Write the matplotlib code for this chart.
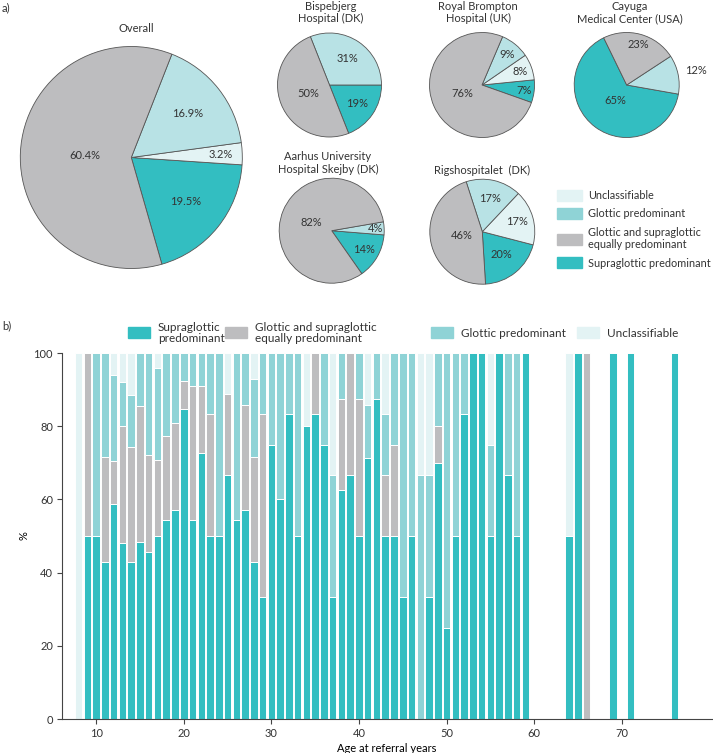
import matplotlib.pyplot as plt
import numpy as np
from matplotlib.patches import Patch, Rectangle

plt.rcParams['font.family'] = ['Lato', 'DejaVu Sans']
plt.rcParams['font.size'] = 8.5
plt.rcParams['text.color'] = '#333333'
plt.rcParams['axes.edgecolor'] = '#444444'
plt.rcParams['xtick.color'] = '#444444'
plt.rcParams['ytick.color'] = '#444444'
plt.rcParams['xtick.labelcolor'] = '#333333'
plt.rcParams['ytick.labelcolor'] = '#333333'

# ---- pie data, order: supraglottic, unclassifiable, glottic, both ----
pie_names = ["Overall", "Bispebjerg\nHospital (DK)", "Royal Brompton\nHospital (UK)",
             "Cayuga\nMedical Center (USA)", "Aarhus University\nHospital Skejby (DK)",
             "Rigshospitalet  (DK)"]
overall = [19.5, 3.2, 16.9, 60.4]
bispebjerg = [19, 0, 31, 50]
royal_brompton = [7, 8, 9, 76]
cayuga = [65, 0, 12, 23]
aarhus = [14, 0, 4, 82]
rigshospitalet = [20, 17, 17, 46]

# ---- bar data: % per age at referral ----
ages = list(range(8, 60)) + [64, 65, 66, 69, 71, 76]
supra = [0, 50, 50, 42.9, 58.8, 48, 42.9, 48.4, 45.5, 50,
         54.5, 57.1, 84.6, 54.5, 72.7, 50, 50, 66.7, 54.5, 57.1,
         42.9, 33.3, 75, 60, 83.3, 50, 80, 83.3, 75, 33.3,
         62.5, 66.7, 50, 71.4, 87.5, 50, 50, 33.3, 50, 0,
         33.3, 70, 25, 50, 83.3, 100, 100, 50, 100, 66.7,
         50, 100, 50, 100, 0, 100, 100, 100]
both = [0, 50, 0, 28.6, 11.8, 32, 31.4, 37.2, 26.5, 20.8,
        22.7, 23.8, 7.7, 36.4, 18.2, 33.3, 0, 22.2, 0, 28.6,
        28.6, 50, 0, 0, 0, 0, 0, 16.7, 0, 0,
        25, 33.3, 37.5, 0, 0, 16.7, 25, 0, 0, 0,
        0, 10, 0, 0, 0, 0, 0, 0, 0, 0,
        0, 0, 0, 0, 100, 0, 0, 0]
glottic = [0, 0, 50, 28.5, 23.5, 12, 14.3, 14.4, 28, 25,
           22.8, 19.1, 7.7, 9.1, 9.1, 16.7, 50, 0, 45.5, 14.3,
           21.4, 16.7, 25, 40, 16.7, 50, 0, 0, 25, 33.3,
           12.5, 0, 12.5, 14.3, 12.5, 16.7, 25, 66.7, 50, 66.7,
           33.3, 20, 75, 50, 16.7, 0, 0, 25, 0, 33.3,
           50, 0, 0, 0, 0, 0, 0, 0]
unclass = [100, 0, 0, 0, 5.9, 8, 11.4, 0, 0, 4.2,
           0, 0, 0, 0, 0, 0, 0, 11.1, 0, 0,
           7.1, 0, 0, 0, 0, 0, 20, 0, 0, 33.4,
           0, 0, 0, 14.3, 0, 16.6, 0, 0, 0, 33.3,
           33.4, 0, 0, 0, 0, 0, 0, 25, 0, 0,
           0, 0, 50, 0, 0, 0, 0, 0]

c_supra = '#33bec1'
c_both = '#bdbdbf'
c_glot = '#8fd3d6'
c_glot_pie = '#b8e2e5'
c_uncl = '#e3f3f4'

W, H = 713, 753
fig = plt.figure(figsize=(W / 100, H / 100), dpi=100)


def px_axes(cx, cy, r):
    return fig.add_axes([(cx - r) / W, 1 - (cy + r) / H, 2 * r / W, 2 * r / H])


pies = [
    (overall, (131.3, 157.5, 111), -74, [0.63, 0.81, 0.64, 0.42], "{:.1f}%"),
    (bispebjerg, (329.5, 85, 52), -68.4, [0.64, 0.62, 0.43], "{:.0f}%"),
    (royal_brompton, (482, 85, 52.5), -19.5, [0.8, 0.77, 0.75, 0.4], "{:.0f}%"),
    (cayuga, (626.7, 85, 52.5), 116, [0.36, 1.35, 0.8], "{:.0f}%"),
    (aarhus, (331.7, 230.7, 52.5), -55, [0.71, 0.83, 0.43], "{:.0f}%"),
    (rigshospitalet, (482.3, 231.7, 52.5), -86.5, [0.57, 0.69, 0.65, 0.4], "{:.0f}%"),
]
pie_cols = [c_supra, c_uncl, c_glot_pie, c_both]

for vals, (cx, cy, r), start, dists, fmt in pies:
    ax = px_axes(cx, cy, r)
    v = [x for x in vals if x > 0]
    cols = [c for x, c in zip(vals, pie_cols) if x > 0]
    wedges, _ = ax.pie(v, colors=cols, startangle=start, counterclock=True,
                       wedgeprops=dict(edgecolor='#555555', linewidth=0.6))
    for w, val, d in zip(wedges, v, dists):
        ang = np.deg2rad((w.theta1 + w.theta2) / 2)
        ax.text(d * np.cos(ang), d * np.sin(ang), fmt.format(val),
                ha='center', va='center', fontsize=8)
    ax.set_xlim(-1, 1)
    ax.set_ylim(-1, 1)
    ax.set_aspect('auto')

# pie titles
fig.text(136 / W, 1 - 29 / H, pie_names[0], ha='center', va='center', fontsize=8)
fig.text(331 / W, 1 - 12.5 / H, pie_names[1], ha='center', va='center', linespacing=1.2, fontsize=8)
fig.text(478 / W, 1 - 12.5 / H, pie_names[2], ha='center', va='center', linespacing=1.2, fontsize=8)
fig.text(630 / W, 1 - 12.5 / H, pie_names[3], ha='center', va='center', linespacing=1.2, fontsize=8)
fig.text(328 / W, 1 - 163 / H, pie_names[4], ha='center', va='center', linespacing=1.2, fontsize=8)
fig.text(482 / W, 1 - 170.5 / H, pie_names[5], ha='center', va='center', fontsize=8)

fig.text(2 / W, 1 - 8 / H, "a)", ha='left', va='center', fontsize=8)
fig.text(2 / W, 1 - 326 / H, "b)", ha='left', va='center', fontsize=8)

# pie legend
handles = [Patch(color=c_uncl, label="Unclassifiable"),
           Patch(color=c_glot, label="Glottic predominant"),
           Patch(color=c_both, label="Glottic and supraglottic\nequally predominant"),
           Patch(color=c_supra, label="Supraglottic predominant")]
fig.legend(handles=handles, loc='upper left', bbox_to_anchor=(557 / W, 1 - 190 / H),
           frameon=False, borderpad=0, borderaxespad=0, handlelength=2.3,
           handleheight=1.2, handletextpad=0.55, labelspacing=0.65, fontsize=7.8)

# ---- bar chart ----
ax = fig.add_axes([62 / W, 1 - 719 / H, 650 / W, 366 / H])
bottom = np.zeros(len(ages))
for vals, col in [(supra, c_supra), (both, c_both), (glottic, c_glot), (unclass, c_uncl)]:
    ax.bar(ages, vals, bottom=bottom, width=0.86, color=col, edgecolor='white', linewidth=0.7)
    bottom += np.array(vals)

ax.set_xlim(6.1, 80.3)
ax.set_ylim(0, 100)
ax.set_xticks([10, 20, 30, 40, 50, 60, 70])
ax.set_yticks([0, 20, 40, 60, 80, 100])
ax.spines['top'].set_visible(False)
ax.spines['right'].set_visible(False)
ax.spines['left'].set_linewidth(0.8)
ax.spines['bottom'].set_linewidth(0.8)
ax.tick_params(length=3.5, width=0.8, labelsize=8, pad=3)
ax.set_xlabel("Age at referral years", fontsize=8, labelpad=3)
ax.set_ylabel("%", fontsize=8)
ax.yaxis.set_label_coords(-0.05, 0.5)

# bar legend (top row)
bar_leg = [(c_supra, "Supraglottic\npredominant", 128),
           (c_both, "Glottic and supraglottic\nequally predominant", 225),
           (c_glot, "Glottic predominant", 431),
           (c_uncl, "Unclassifiable", 577)]
for col, lab, x0 in bar_leg:
    fig.add_artist(Rectangle((x0 / W, 1 - 338 / H), 22 / W, 11 / H,
                             transform=fig.transFigure, color=col))
    fig.text((x0 + 30) / W, 1 - 333 / H, lab, ha='left', va='center', linespacing=1.1)

fig.savefig('out.png', dpi=100)
